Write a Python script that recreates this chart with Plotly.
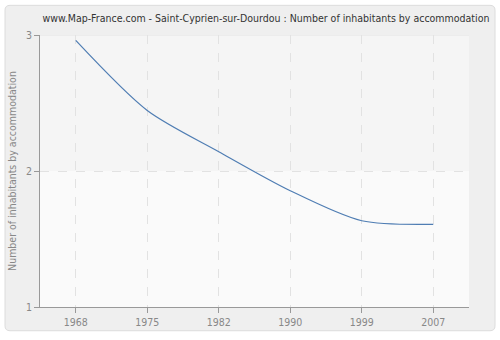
import plotly.graph_objects as go

years = ["1968", "1975", "1982", "1990", "1999", "2007"]
values = [2.96, 2.445, 2.142, 1.855, 1.634, 1.608]
y_ticks = [1, 2, 3]

title = "www.Map-France.com - Saint-Cyprien-sur-Dourdou : Number of inhabitants by accommodation"
y_title = "Number of inhabitants by accommodation"

FONT = "DejaVu Sans Condensed, DejaVu Sans, Verdana, sans-serif"

fig = go.Figure()
fig.add_trace(go.Scatter(
    x=years, y=values, mode="lines",
    line=dict(color="#4f7db3", width=1.2, shape="spline", smoothing=0.8),
    hoverinfo="skip", showlegend=False,
))

# outer rounded panel (paper coordinates relative to plot area)
L, T, W, H = 40, 35, 429, 275
def px(x):
    return (x - L) / W
def py(y):
    return (T + H - y) / H
x0, x1, y0, y1 = 5, 495, 5, 334
r = 5
path = (f"M {px(x0+r)},{py(y0)} L {px(x1-r)},{py(y0)} Q {px(x1)},{py(y0)} {px(x1)},{py(y0+r)} "
        f"L {px(x1)},{py(y1-r)} Q {px(x1)},{py(y1)} {px(x1-r)},{py(y1)} "
        f"L {px(x0+r)},{py(y1)} Q {px(x0)},{py(y1)} {px(x0)},{py(y1-r)} "
        f"L {px(x0)},{py(y0+r)} Q {px(x0)},{py(y0)} {px(x0+r)},{py(y0)} Z")
shapes = [
    dict(type="path", path=path, xref="paper", yref="paper",
         fillcolor="#efefef", line=dict(color="#dcdcdc", width=1), layer="below"),
    dict(type="rect", xref="paper", yref="y", x0=0, x1=1, y0=2, y1=3,
         fillcolor="#f5f5f5", line=dict(width=0), layer="below"),
    dict(type="rect", xref="paper", yref="y", x0=0, x1=1, y0=1, y1=2,
         fillcolor="#fafafa", line=dict(width=0), layer="below"),
    dict(type="line", xref="paper", yref="y", x0=0, x1=1, y0=3, y1=3,
         line=dict(color="#e4e4e4", width=1), layer="below"),
]

fig.update_layout(
    width=500, height=340,
    margin=dict(l=L, r=500 - L - W, t=T, b=340 - T - H),
    paper_bgcolor="white",
    plot_bgcolor="rgba(0,0,0,0)",
    font=dict(family=FONT, color="#888888", size=10),
    title=dict(text=title, x=0.532, xanchor="center", y=0.945, yanchor="middle",
               font=dict(family=FONT, size=10.5, color="#333333")),
    shapes=shapes,
    xaxis=dict(
        type="category", range=[-0.5, 5.5],
        showline=True, linecolor="#999999", linewidth=1,
        ticks="outside", ticklen=5, tickcolor="#999999",
        showgrid=True, gridcolor="#e2e2e2", griddash="dash", gridwidth=1,
        tickfont=dict(family=FONT, size=10.5, color="#888888"), zeroline=False,
        fixedrange=True,
    ),
    yaxis=dict(
        range=[1, 3], tickvals=y_ticks,
        showline=True, linecolor="#999999", linewidth=1,
        ticks="outside", ticklen=5, tickcolor="#999999",
        showgrid=True, gridcolor="#e2e2e2", griddash="dash", gridwidth=1,
        tickfont=dict(family=FONT, size=10.5, color="#888888"), zeroline=False,
        title=dict(text=y_title, font=dict(family=FONT, size=10.5, color="#888888"), standoff=7),
        fixedrange=True,
    ),
)

fig.write_html("out.html")
